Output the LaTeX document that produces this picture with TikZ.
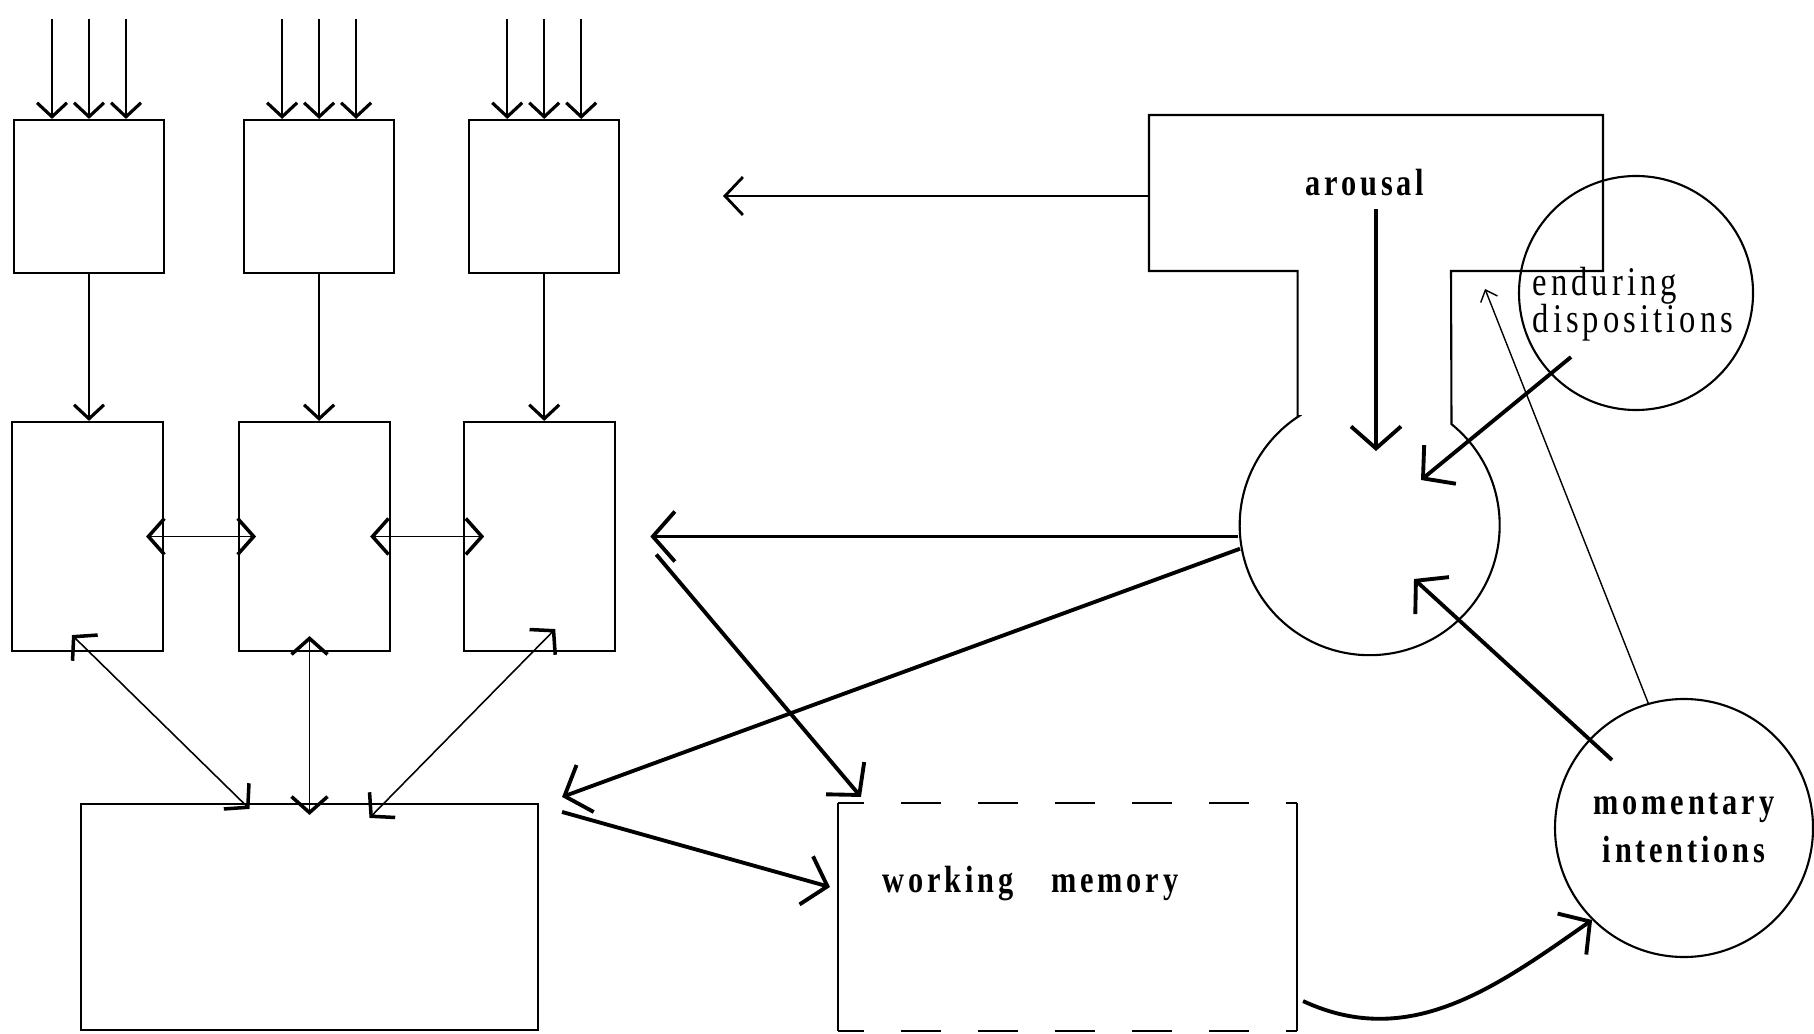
\documentclass[tikz,border=0pt]{standalone}
\usepackage{fontspec}
\newfontfamily\figfont[FakeStretch=0.8,LetterSpace=10]{Liberation Serif}
\usetikzlibrary{positioning,arrows.meta,calc}

\begin{document}
\begin{tikzpicture}[
  font=\figfont\bfseries\fontsize{10.8}{13.4}\selectfont,
  line width=0.6pt,
  store/.style={draw,minimum width=15mm,minimum height=15.3mm,inner sep=0pt},
  anl/.style={draw,minimum width=15.1mm,minimum height=22.9mm,inner sep=0pt},
  mem/.style={minimum width=45.7mm,minimum height=22.6mm,inner sep=0pt},
  bubble/.style={draw,circle,inner sep=0pt,align=center},
  fine/.style={line width=0.45pt,-{Straight Barb[length=1.4mm,width=3mm,line width=0.9pt]}},
  both/.style={line width=0.45pt,{Straight Barb[length=1.6mm,width=3.6mm,line width=1pt]}-{Straight Barb[length=1.6mm,width=3.6mm,line width=1pt]}},
  med/.style={line width=0.7pt,-{Straight Barb[length=1.8mm,width=3.8mm,line width=0.8pt]}},
  heavy/.style={line width=1.1pt,-{Straight Barb[length=2.2mm,width=5mm]}},
  tiny/.style={line width=0.4pt,-{Straight Barb[length=1mm,width=1.8mm]}}
]
\useasboundingbox (0,0) rectangle (18.14,10.33);

% input stores
\node[store] (reg1) at (0.89,8.365) {};
\node[store,right=7.8mm of reg1] (reg2) {};
\node[store,right=7.3mm of reg2] (reg3) {};

% analysers
\node[anl] (an1) at (0.875,4.965) {};
\node[anl,right=7.4mm of an1] (an2) {};
\node[anl,right=7.2mm of an2] (an3) {};

% memories
\node[mem,draw] (ltm) at (3.095,1.16) {};
\node[mem] (wm) at (10.675,1.16) {};
\node[anchor=base west] (wmlab) at (8.70,1.41) {working\hspace{1em}memory};
\draw (wm.north west) -- (wm.south west) (wm.north east) -- (wm.south east);
\draw[dash pattern=on 4mm off 3.7mm,dash phase=1.4mm] (wm.north west) -- (wm.north east) (wm.south west) -- (wm.south east);

% capacity, arousal, bubbles
\node[bubble,draw=none,minimum size=2.6cm] (cap) at (13.69,5.07) {};
\node (arousal) at (13.65,8.50) {arousal};
\node[bubble,minimum size=2.34cm,
  label={[align=left,font=\figfont\fontsize{11.6}{10.6}\selectfont,yshift=-1.1mm,xshift=-0.3mm]center:enduring\\dispositions}] (endur) at (16.36,7.40) {};
\node[bubble,minimum size=2.58cm] (moment) at (16.84,2.05) {momentary\\intentions};

\coordinate (arW) at (11.49,8.37);
\coordinate (arInR) at (14.51,7.62);
\draw (cap.123) |- (11.49,7.62) |- (16.03,9.18) |- (arInR) -- (cap.51)
  arc[start angle=51,end angle=-237,radius=1.3cm] -- cycle;

\foreach \i in {1,2,3}
  \foreach \dx in {-3.7mm,0mm,3.7mm}
    \draw[fine] ([xshift=\dx]reg\i.north) ++(0,1) -- ([xshift=\dx]reg\i.north);
\foreach \i in {1,2,3}
  \draw[fine] (reg\i) -- (reg\i |- an\i.north);

\draw[both] ([xshift=-1.8mm]an1.east) -- ([xshift=1.8mm]an2.west);
\draw[both] ([xshift=-2.1mm]an2.east) -- ([xshift=2.1mm]an3.west);
\draw[both] ([shift={(-0.6,-0.06)}]ltm.north) -- ([shift={(-0.155,0.17)}]an1.south);
\draw[both] ([yshift=-1.2mm]ltm.north) -- ($(ltm.north |- an2.south)+(0,0.16)$);
\draw[both] ([shift={(0.6,-0.15)}]ltm.north) -- ([shift={(0.155,0.23)}]an3.south);

\coordinate (gate) at (7.23,8.37);
\draw[med] (arW) -- (gate);
\draw[heavy] ([xshift=1.1mm]arousal.south) -- ([shift={(0.07,0.75)}]cap.center);
\draw[heavy] ([shift={(-0.65,-0.64)}]endur.center) -- ([shift={(0.52,0.46)}]cap.center);
\draw[heavy] ([shift={(-0.72,0.68)}]moment.center) -- ([shift={(0.45,-0.53)}]cap.center);
\draw[tiny] (moment.106) -- ([shift={(0.34,-0.18)}]arInR);

\coordinate (fb) at ([xshift=3.4mm]an3.east);
\draw[heavy] (cap.west |- fb) -- (fb);
\draw[heavy] (cap.190) -- ([shift={(0.23,0.06)}]ltm.north east);
\draw[heavy] ([shift={(0.06,-0.18)}]fb) -- ([shift={(0.23,0.06)}]wm.north west);
\draw[heavy] ([shift={(0.23,-0.09)}]ltm.north east) -- ([shift={(-0.08,0.30)}]wm.west);
\draw[heavy] ([shift={(0.06,0.30)}]wm.south east) to[out=-25,in=215] (moment.225);
\end{tikzpicture}
\end{document}
